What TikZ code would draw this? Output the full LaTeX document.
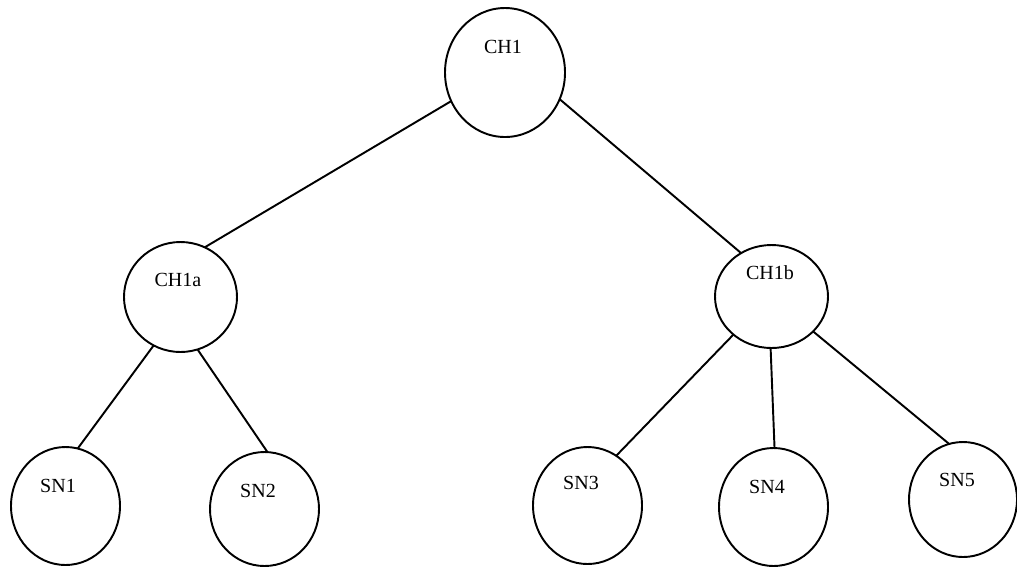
\documentclass[tikz,border=0pt]{standalone}
\usepackage{fontspec}
\setmainfont{Liberation Serif}
\usetikzlibrary{shapes.geometric}
\newdimen\upx
\upx=0.02cm
\begin{document}
\begin{tikzpicture}[x=0.02cm,y=-0.02cm,
  bub/.style={draw,line width=1.1pt,ellipse,inner sep=0pt,outer sep=0pt},
  lbl/.style={inner sep=0pt,font=\fontsize{11.4}{13}\selectfont},
  link/.style={line width=1.1pt}]
\useasboundingbox (0,0) rectangle (1017,566);
% nodes
\node[bub,minimum width=120\upx,minimum height=129\upx] (CH1) at (505,72.5) {};
\node[bub,minimum width=113\upx,minimum height=110\upx] (CH1a) at (180.5,297) {};
\node[bub,minimum width=113\upx,minimum height=103\upx] (CH1b) at (771.5,296.5) {};
\node[bub,minimum width=109\upx,minimum height=118\upx] (SN1) at (65.5,506) {};
\node[bub,minimum width=109\upx,minimum height=114\upx] (SN2) at (264.5,509) {};
\node[bub,minimum width=109\upx,minimum height=117\upx] (SN3) at (587.5,505.5) {};
\node[bub,minimum width=109\upx,minimum height=118\upx] (SN4) at (773.5,507) {};
\node[bub,minimum width=108\upx,minimum height=115\upx] (SN5) at (963,499.5) {};
% labels
\node[lbl] (tCH1) at (503,47) {CH1};
\node[lbl] (tCH1a) at (178,280) {CH1a};
\node[lbl] (tCH1b) at (770,273) {CH1b};
\node[lbl] (tSN1) at (58,486) {SN1};
\node[lbl] (tSN2) at (258,491) {SN2};
\node[lbl] (tSN3) at (581,483) {SN3};
\node[lbl] (tSN4) at (767,487) {SN4};
\node[lbl] (tSN5) at (957,480) {SN5};
% connectors
\draw[link] (CH1.208) -- (CH1a.64);
\draw[link] (CH1.334.7) -- (CH1b.125.9);
\draw[link] (CH1a.241.2) -- (SN1.78);
\draw[link] (CH1a.288.6) -- (SN2.87.5);
\draw[link] (CH1b.225.8) -- (SN3.60.7);
\draw[link] (CH1b.269.4) -- (SN4.89.5);
\draw[link] (CH1b.320.1) -- (SN5.104.9);
\end{tikzpicture}
\end{document}
